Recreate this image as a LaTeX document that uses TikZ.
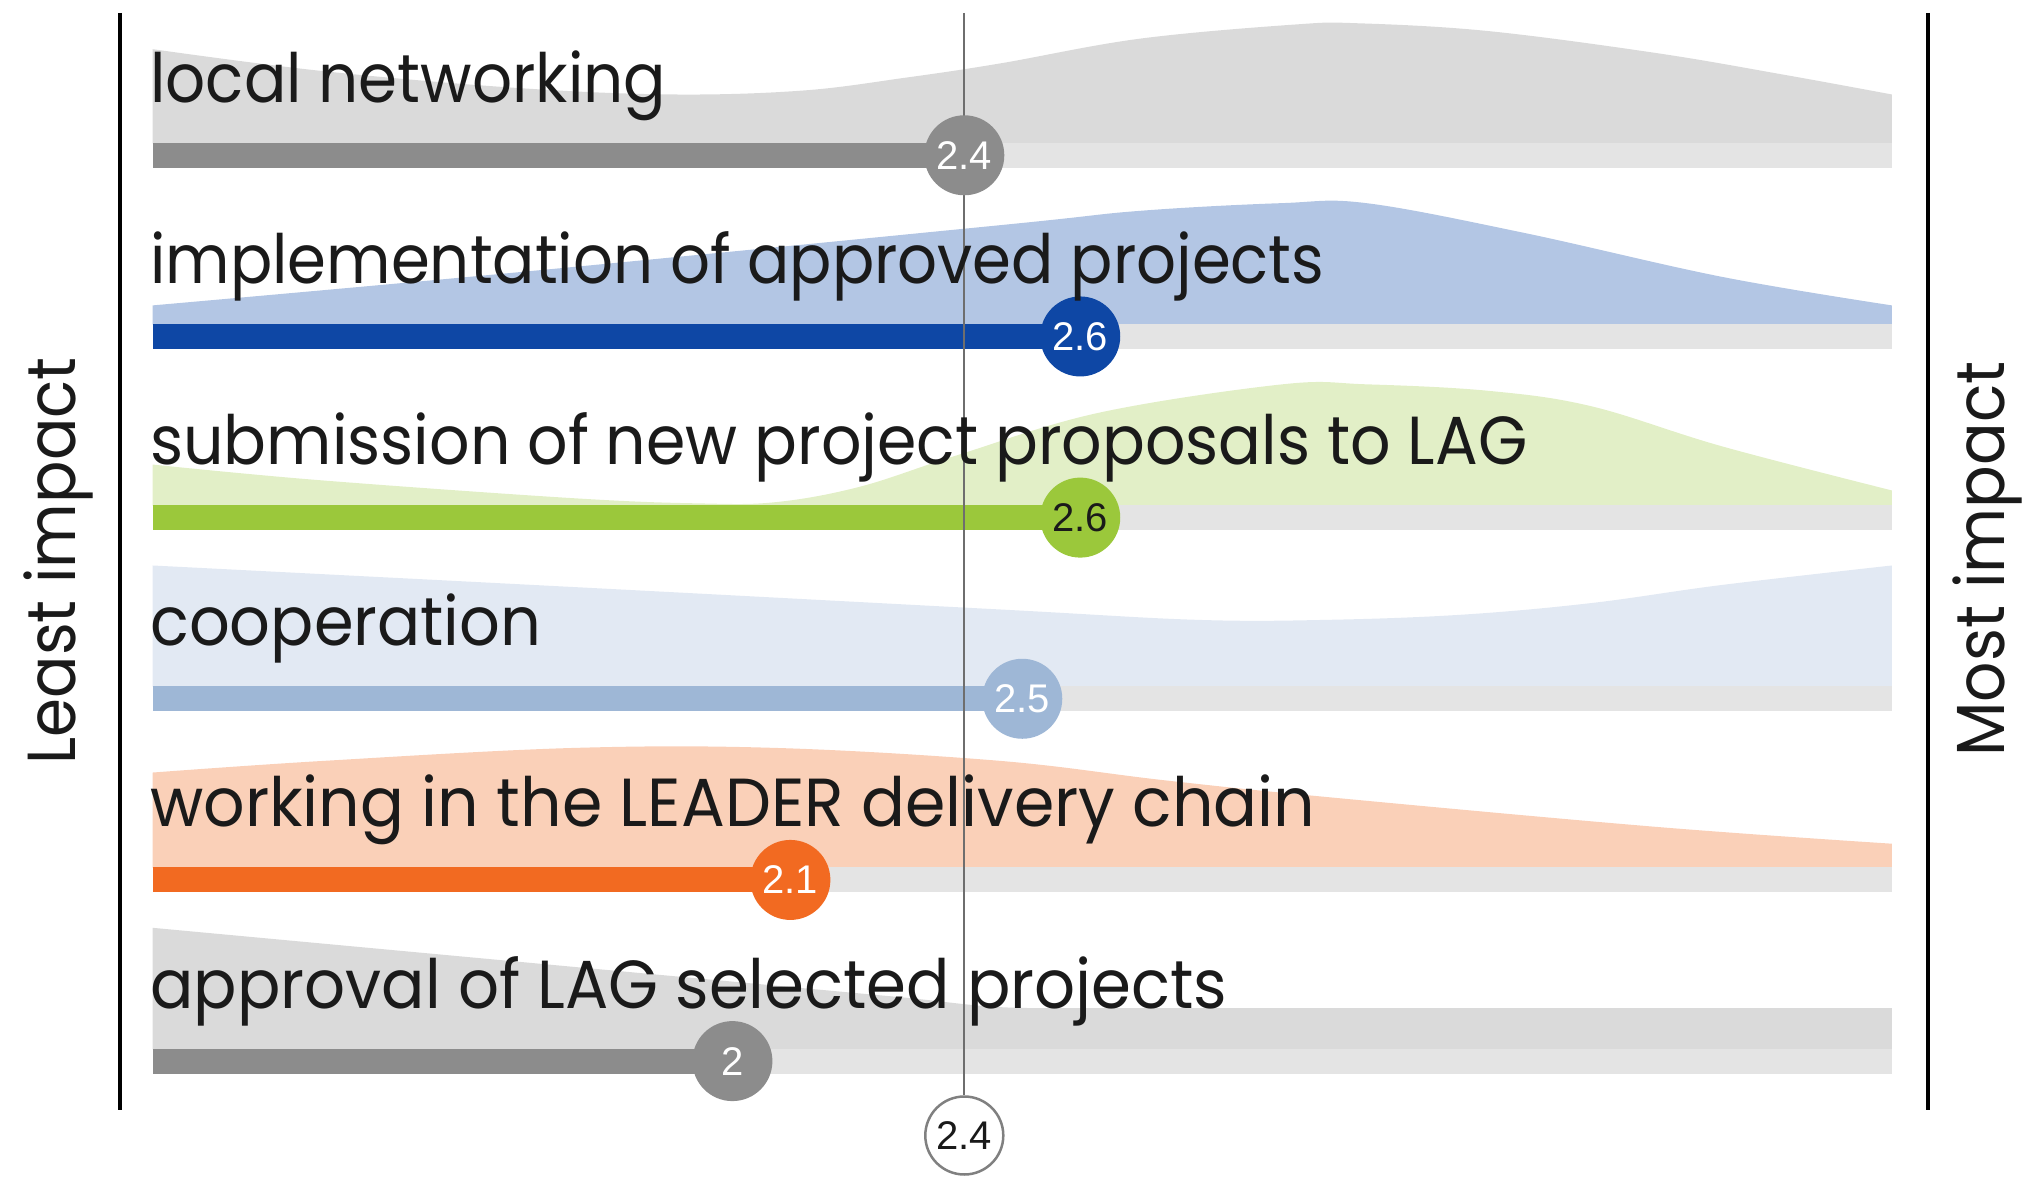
\documentclass[tikz,border=0pt]{standalone}
\usepackage{fontspec}
\setmainfont{Poppins}
\newfontfamily\numfont{Liberation Sans}
\usepackage{graphicx}
\definecolor{graybar}{HTML}{8C8C8C}
\definecolor{track}{HTML}{E4E4E4}
\definecolor{grayL}{HTML}{DADADA}
\definecolor{blueD}{HTML}{0E47A5}
\definecolor{blueL}{HTML}{B3C6E4}
\definecolor{greenD}{HTML}{9BC83B}
\definecolor{greenL}{HTML}{E2EFC7}
\definecolor{skyD}{HTML}{9EB7D6}
\definecolor{skyL}{HTML}{E2E9F3}
\definecolor{orangeD}{HTML}{F26A21}
\definecolor{orangeL}{HTML}{FAD0B8}
\definecolor{refgray}{HTML}{6E6E6E}
\definecolor{ringgray}{HTML}{808080}
\definecolor{ink}{HTML}{1A1A1A}
\pgfdeclarelayer{bg}
\pgfdeclarelayer{mid}
\pgfsetlayers{bg,mid,main}
\begin{document}
\begin{tikzpicture}[x=1.29401pt, y=-1.29401pt,
  lbl/.style={anchor=base west, inner sep=0pt, text=ink, font=\fontsize{68}{80}\selectfont},
  axislbl/.style={rotate=90, anchor=base, inner sep=0pt, text=ink, font=\fontsize{68}{80}\selectfont},
  valdot/.style={circle, inner sep=0pt, minimum size=80pt, text=white, font=\numfont\fontsize{40}{42}\selectfont},
  trackbar/.style={line width=25pt, track},
  valbar/.style={line width=25pt},
  axisline/.style={line width=4pt, black},
  refline/.style={line width=2pt, refgray},
  avgdot/.style={circle, inner sep=0pt, minimum size=78pt, fill=white, draw=ringgray, line width=2.5pt, text=ink, font=\numfont\fontsize{40}{42}\selectfont}
]
\useasboundingbox (0,0) rectangle (1568,910.35);

% start points
\coordinate (s1) at (118,120);
\coordinate (s2) at (118,260);
\coordinate (s3) at (118,400);
\coordinate (s4) at (118,540);
\coordinate (s5) at (118,680);
\coordinate (s6) at (118,820);

% value circles
\node[valdot, fill=graybar] (c1) at (745.2,120) {2.4};
\node[valdot, fill=blueD] (c2) at (834.8,260) {2.6};
\node[valdot, fill=greenD, text=ink] (c3) at (834.8,400) {2.6};
\node[valdot, fill=skyD] (c4) at (790,540) {2.5};
\node[valdot, fill=orangeD] (c5) at (610.8,680) {2.1};
\node[valdot, fill=graybar] (c6) at (566,820) {2};

% average circle
\node[avgdot] (avg) at (745.2,877.5) {2.4};

\begin{pgfonlayer}{bg}
% density areas
\fill[grayL] (118,110.5) -- plot[smooth, tension=0.6] coordinates {(118,38) (250,55) (400,68) (520,73) (620,70) (700,60) (773,49) (880,30) (1000,19) (1050,18) (1150,24) (1280,41) (1380,58) (1462,73)} -- (1462,110.5) -- cycle;
\fill[blueL] (118,250.5) -- plot[smooth, tension=0.6] coordinates {(118,236) (394,211) (773,174) (880,163) (990,157) (1056,157) (1178,180) (1331,214) (1462,236)} -- (1462,250.5) -- cycle;
\fill[greenL] (118,390.5) -- plot[smooth, tension=0.6] coordinates {(118,359) (246,371) (443,385) (540,389) (600,388) (665,376) (739,352) (849,319) (991,297) (1056,297) (1150,302) (1230,314) (1331,345) (1462,379)} -- (1462,390.5) -- cycle;
\fill[skyL] (118,530.5) -- plot[smooth, tension=0.6] coordinates {(118,437) (450,454) (773,471) (925,479) (1026,479) (1130,475) (1230,466) (1331,452) (1462,437)} -- (1462,530.5) -- cycle;
\fill[orangeL] (118,670.5) -- plot[smooth, tension=0.6] coordinates {(118,597) (250,588) (443,578) (600,578) (773,588) (900,603) (1026,616) (1280,639) (1462,652)} -- (1462,670.5) -- cycle;
\fill[grayL] (118,810.5) -- (118,717) -- (700,771) .. controls (740,775) and (760,779) .. (800,779) -- (1462,779) -- (1462,810.5) -- cycle;

% tracks
\foreach \yc in {120,260,400,540,680,820}{
  \draw[trackbar] (118,\yc) -- (1462,\yc);
}

% value bars
\draw[valbar, graybar] (s1) -- (c1.center);
\draw[valbar, blueD] (s2) -- (c2.center);
\draw[valbar, greenD] (s3) -- (c3.center);
\draw[valbar, skyD] (s4) -- (c4.center);
\draw[valbar, orangeD] (s5) -- (c5.center);
\draw[valbar, graybar] (s6) -- (c6.center);
\end{pgfonlayer}

% reference line
\coordinate (reftop) at (745.2,10);
\begin{pgfonlayer}{mid}
\draw[refline] (reftop) -- (avg);
\end{pgfonlayer}

% axis lines
\coordinate (la) at (93,10);
\coordinate (lb) at (93,858);
\coordinate (ra) at (1490,10);
\coordinate (rb) at (1490,858);
\draw[axisline] (la) -- (lb);
\draw[axisline] (ra) -- (rb);

% labels
\node[lbl] (l1) at (116,79) {\resizebox{516pt}{\height}{local networking}};
\node[lbl] (l2) at (116,219) {\resizebox{1174pt}{\height}{implementation of approved projects}};
\node[lbl] (l3) at (116,359) {\resizebox{1377pt}{\height}{submission of new project proposals to LAG}};
\node[lbl] (l4) at (116,499) {\resizebox{391pt}{\height}{cooperation}};
\node[lbl] (l5) at (116,639) {\resizebox{1165pt}{\height}{working in the LEADER delivery chain}};
\node[lbl] (l6) at (116,779) {\resizebox{1077pt}{\height}{approval of LAG selected projects}};

\node[axislbl] (least) at (58,433.5) {\resizebox{407pt}{\height}{Least impact}};
\node[axislbl] (most) at (1549,432) {\resizebox{395pt}{\height}{Most impact}};
\end{tikzpicture}
\end{document}
